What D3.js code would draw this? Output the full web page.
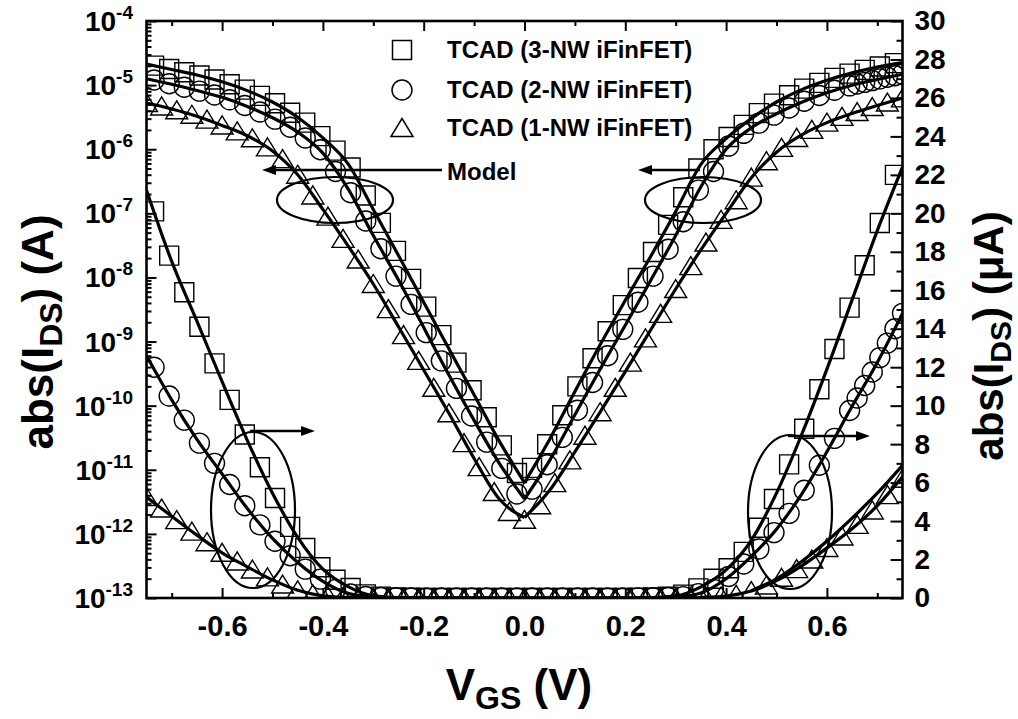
<!DOCTYPE html>
<html>
<head>
<meta charset="utf-8">
<script src="https://cdn.jsdelivr.net/npm/d3@7"></script>
<style>
  body { margin: 0; background: #fff; }
  text { font-family: "Liberation Sans", Arial, sans-serif; font-weight: bold; fill: #000; }
</style>
</head>
<body>
<svg id="chart" width="1018" height="719"></svg>
<script>
// ---- data (currents in A) ----
// 3-NW iFinFET (squares)
const vSq = [-0.735,-0.705,-0.675,-0.645,-0.615,-0.585,-0.555,-0.525,-0.495,-0.465,-0.435,-0.405,-0.375,-0.345,-0.315,-0.285,-0.255,-0.225,-0.195,-0.165,-0.135,-0.105,-0.075,-0.045,-0.015,
             0.015,0.045,0.075,0.105,0.135,0.165,0.195,0.225,0.255,0.285,0.315,0.345,0.375,0.405,0.435,0.465,0.495,0.525,0.555,0.585,0.615,0.645,0.675,0.705,0.735];
const iSq = [2.01e-5,1.78e-5,1.59e-5,1.41e-5,1.22e-5,1.03e-5,8.5e-6,6.8e-6,5.2e-6,3.7e-6,2.6e-6,1.6e-6,9.5e-7,5.2e-7,1.9e-7,7.1e-8,2.6e-8,9.5e-9,3.5e-9,1.26e-9,4.7e-10,1.74e-10,6.6e-11,2.4e-11,8.9e-12,
             1.07e-11,2.5e-11,7.1e-11,2.0e-10,5.5e-10,1.45e-9,3.7e-9,9.8e-9,2.5e-8,6.6e-8,1.78e-7,5.0e-7,1.0e-6,1.55e-6,2.4e-6,3.65e-6,5.15e-6,6.95e-6,8.8e-6,1.085e-5,1.295e-5,1.51e-5,1.73e-5,1.95e-5,2.2e-5];

// 2-NW iFinFET (circles)
const vCi = [-0.735,-0.705,-0.675,-0.645,-0.615,-0.585,-0.555,-0.525,-0.495,-0.465,-0.435,-0.405,-0.375,-0.345,-0.315,-0.285,-0.255,-0.225,-0.195,-0.165,-0.135,-0.105,-0.075,-0.045,-0.015,
             0.015,0.045,0.075,0.105,0.135,0.165,0.195,0.225,0.255,0.285,0.315,0.345,0.375,0.405,0.435,0.465,0.495,0.525,0.555,0.585,0.615,
             0.645,0.66,0.675,0.69,0.705,0.72,0.735,0.75];
const iCi = [1.2e-5,1.05e-5,9.25e-6,8.05e-6,7.0e-6,5.9e-6,4.8e-6,3.8e-6,2.95e-6,2.2e-6,1.5e-6,9.8e-7,4.5e-7,2.1e-7,7.6e-8,2.8e-8,1.05e-8,3.8e-9,1.38e-9,5.0e-10,1.86e-10,6.9e-11,2.7e-11,1.05e-11,4.2e-12,
             5.0e-12,1.2e-11,3.2e-11,8.5e-11,2.3e-10,6.0e-10,1.55e-9,4.1e-9,1.05e-8,2.75e-8,7.4e-8,2.3e-7,4.5e-7,1.12e-6,1.77e-6,2.55e-6,3.4e-6,4.4e-6,5.6e-6,6.9e-6,8.3e-6,
             9.75e-6,1.04e-5,1.105e-5,1.175e-5,1.25e-5,1.325e-5,1.4e-5,1.48e-5];

// 1-NW iFinFET (triangles)
const vTr = [-0.75,-0.72,-0.69,-0.66,-0.63,-0.60,-0.57,-0.54,-0.51,-0.48,-0.45,-0.42,-0.39,-0.36,-0.33,-0.30,-0.27,-0.24,-0.21,-0.18,-0.15,-0.12,-0.09,-0.06,-0.03,0,
             0.03,0.06,0.09,0.12,0.15,0.18,0.21,0.24,0.27,0.30,0.33,0.36,0.39,0.42,0.45,0.48,0.51,0.54,0.57,0.60,0.63,0.66,0.69,0.72,0.75];
const iTr = [5.25e-6,4.65e-6,4.05e-6,3.45e-6,2.9e-6,2.35e-6,1.9e-6,1.48e-6,1.07e-6,7.0e-7,4.0e-7,1.9e-7,8.9e-8,4.0e-8,1.9e-8,7.9e-9,3.2e-9,1.26e-9,5.0e-10,1.9e-10,7.6e-11,2.6e-11,1.1e-11,4.5e-12,2.2e-12,1.66e-12,
             2.8e-12,6.2e-12,1.4e-11,3.4e-11,7.9e-11,1.9e-10,4.7e-10,1.12e-9,2.7e-9,6.6e-9,1.5e-8,3.5e-8,7.9e-8,1.6e-7,3.6e-7,6.5e-7,1.05e-6,1.5e-6,2.0e-6,2.6e-6,3.2e-6,3.8e-6,4.55e-6,5.35e-6,6.2e-6];

// model curves (negative branch ends at 0, positive branch starts at 0)
const vModel = [-0.75,-0.70,-0.65,-0.60,-0.55,-0.50,-0.45,-0.40,-0.35,-0.30,-0.25,-0.20,-0.15,-0.10,-0.05,0,
                0.05,0.10,0.15,0.20,0.25,0.30,0.35,0.40,0.45,0.50,0.55,0.60,0.65,0.70,0.75];
const model3 = [2.12e-5,1.75e-5,1.44e-5,1.125e-5,8.2e-6,5.45e-6,3.15e-6,1.5e-6,5.9e-7,1.15e-7,2.2e-8,4.1e-9,7.7e-10,1.48e-10,2.8e-11,6.3e-12,
                3.0e-11,1.66e-10,8.9e-10,4.4e-9,2.1e-8,1.07e-7,5.8e-7,1.46e-6,3.0e-6,5.45e-6,8.5e-6,1.19e-5,1.55e-5,1.91e-5,2.24e-5];
const model2 = [1.26e-5,1.03e-5,8.25e-6,6.45e-6,4.65e-6,3.1e-6,1.85e-6,8.7e-7,2.4e-7,4.5e-8,9.1e-9,1.66e-9,3.0e-10,5.9e-11,1.26e-11,3.5e-12,
                1.4e-11,7.2e-11,3.7e-10,1.8e-9,8.9e-9,4.5e-8,2.6e-7,1.0e-6,2.16e-6,3.57e-6,5.4e-6,7.6e-6,9.97e-6,1.225e-5,1.48e-5];
const model1 = [5.25e-6,4.25e-6,3.27e-6,2.35e-6,1.62e-6,9.4e-7,4.0e-7,1.15e-7,3.1e-8,7.9e-9,1.7e-9,3.6e-10,7.6e-11,1.5e-11,3.5e-12,1.8e-12,
                4.8e-12,1.9e-11,7.9e-11,3.4e-10,1.5e-9,6.6e-9,2.7e-8,1.0e-7,3.6e-7,9.0e-7,1.67e-6,2.6e-6,3.6e-6,4.8e-6,6.3e-6];
// second 1-NW model trace seen on the linear axis, positive side
const vModel1b = [0.45,0.50,0.55,0.60,0.65,0.70,0.75];
const model1b = [3.8e-7,1.0e-6,1.9e-6,2.95e-6,4.15e-6,5.45e-6,6.9e-6];

const xMajor = [-0.6,-0.4,-0.2,0,0.2,0.4,0.6];
const xMinor = [-0.7,-0.5,-0.3,-0.1,0.1,0.3,0.5,0.7];
const logExp = [-4,-5,-6,-7,-8,-9,-10,-11,-12,-13];
const linMajor = [0,2,4,6,8,10,12,14,16,18,20,22,24,26,28,30];
const linMinor = [1,3,5,7,9,11,13,15,17,19,21,23,25,27,29];
const legendNames = ["TCAD (3-NW iFinFET)", "TCAD (2-NW iFinFET)", "TCAD (1-NW iFinFET)"];

// ---- layout ----
const svg = d3.select("#chart");
const box = {left: 146.5, right: 902.5, top: 21, bottom: 598};

const x = d3.scaleLinear().domain([-0.75, 0.75]).range([box.left, box.right]);
const yLog = d3.scaleLog().domain([1e-13, 1e-4]).range([box.bottom, box.top]);
const yLin = d3.scaleLinear().domain([0, 30]).range([box.bottom, box.top]);

svg.append("defs").append("clipPath").attr("id", "clip")
    .append("rect")
    .attr("x", box.left).attr("y", box.top)
    .attr("width", box.right - box.left).attr("height", box.bottom - box.top);

const shapes = {
    square: "M-9.5,-9.5h19v19h-19z",
    circle: "M-10,0a10,10 0 1,0 20,0a10,10 0 1,0 -20,0",
    triangle: "M0,-9.5L11,8.5L-11,8.5Z"
};

const series = [
    {v: vSq, i: iSq, shape: "square", model: model3},
    {v: vCi, i: iCi, shape: "circle", model: model2},
    {v: vTr, i: iTr, shape: "triangle", model: model1}
];

const plotArea = svg.append("g").attr("clip-path", "url(#clip)");

const lineLog = d3.line().x(d => x(d[0])).y(d => yLog(d[1])).curve(d3.curveMonotoneX);
const lineLin = d3.line().x(d => x(d[0])).y(d => yLin(d[1] * 1e6)).curve(d3.curveMonotoneX);

function drawLine(pts, gen) {
    plotArea.append("path").datum(pts)
        .attr("d", gen)
        .attr("fill", "none").attr("stroke", "#000").attr("stroke-width", 3.2)
        .attr("stroke-linejoin", "round");
}

series.forEach(s => {
    const pts = s.v.map((v, k) => [v, s.i[k]]);
    const mpts = vModel.map((v, k) => [v, s.model[k]]);
    const neg = mpts.filter(d => d[0] <= 0);
    const pos = mpts.filter(d => d[0] >= 0);

    // markers, log axis
    plotArea.append("g").selectAll("path")
        .data(pts).join("path")
        .attr("d", shapes[s.shape])
        .attr("transform", d => `translate(${x(d[0])},${yLog(d[1])})`)
        .attr("fill", "none").attr("stroke", "#000").attr("stroke-width", 1.4);

    // markers, linear axis
    plotArea.append("g").selectAll("path")
        .data(pts).join("path")
        .attr("d", shapes[s.shape])
        .attr("transform", d => `translate(${x(d[0])},${yLin(d[1] * 1e6)})`)
        .attr("fill", "none").attr("stroke", "#000").attr("stroke-width", 1.4);

    // model lines, one branch per polarity
    drawLine(neg, lineLog);
    drawLine(pos, lineLog);
    drawLine(neg, lineLin);
    drawLine(pos, lineLin);
});
drawLine(vModel1b.map((v, k) => [v, model1b[k]]), lineLin);

// ---- axes ----
const noLabel = () => "";

// bottom
const gBottom = svg.append("g").attr("transform", `translate(0,${box.bottom})`)
    .call(d3.axisBottom(x).tickValues(xMajor).tickSizeInner(-10).tickSizeOuter(0)
        .tickPadding(17).tickFormat(d => d.toFixed(1)));
svg.append("g").attr("transform", `translate(0,${box.bottom})`)
    .call(d3.axisBottom(x).tickValues(xMinor).tickSizeInner(-5).tickSizeOuter(0).tickFormat(noLabel));
// top
svg.append("g").attr("transform", `translate(0,${box.top})`)
    .call(d3.axisTop(x).tickValues(xMajor).tickSizeInner(-10).tickSizeOuter(0).tickFormat(noLabel));
svg.append("g").attr("transform", `translate(0,${box.top})`)
    .call(d3.axisTop(x).tickValues(xMinor).tickSizeInner(-5).tickSizeOuter(0).tickFormat(noLabel));

// left log
const logMajor = logExp.map(e => Math.pow(10, e));
const logMinor = [];
logExp.slice(1).forEach(e => { for (let m = 2; m <= 9; m++) logMinor.push(m * Math.pow(10, e)); });
svg.append("g").attr("transform", `translate(${box.left},0)`)
    .call(d3.axisLeft(yLog).tickValues(logMajor).tickSizeInner(-10).tickSizeOuter(0).tickFormat(noLabel));
svg.append("g").attr("transform", `translate(${box.left},0)`)
    .call(d3.axisLeft(yLog).tickValues(logMinor).tickSizeInner(-5).tickSizeOuter(0).tickFormat(noLabel));

const leftLabels = svg.append("g").selectAll("text")
    .data(logExp).join("text")
    .attr("x", 133).attr("y", e => yLog(Math.pow(10, e)) + 10)
    .attr("text-anchor", "end").style("font-size", "28px");
leftLabels.append("tspan").text("10");
leftLabels.append("tspan").attr("dy", -12).style("font-size", "19px").text(e => "-" + Math.abs(e));

// right linear
const gRight = svg.append("g").attr("transform", `translate(${box.right},0)`)
    .call(d3.axisRight(yLin).tickValues(linMajor).tickSizeInner(-12).tickSizeOuter(0)
        .tickPadding(12).tickFormat(d3.format("d")));
svg.append("g").attr("transform", `translate(${box.right},0)`)
    .call(d3.axisRight(yLin).tickValues(linMinor).tickSizeInner(-6).tickSizeOuter(0).tickFormat(noLabel));

svg.selectAll(".domain").remove();
svg.selectAll(".tick line").attr("stroke", "#000").attr("stroke-width", 2);
svg.selectAll(".tick text").attr("fill", "#000")
    .style("font-family", "'Liberation Sans', Arial, sans-serif")
    .style("font-weight", "bold");
gBottom.selectAll(".tick text").style("font-size", "29px");
gRight.selectAll(".tick text").style("font-size", "28px");

// frame
svg.append("rect")
    .attr("x", box.left).attr("y", box.top)
    .attr("width", box.right - box.left).attr("height", box.bottom - box.top)
    .attr("fill", "none").attr("stroke", "#000").attr("stroke-width", 2.6);

// ---- axis titles ----
const tLeft = svg.append("text")
    .attr("transform", "translate(53,332) rotate(-90)")
    .attr("text-anchor", "middle").style("font-size", "44px");
tLeft.append("tspan").text("abs(I");
tLeft.append("tspan").attr("dy", 9).style("font-size", "32px").text("DS");
tLeft.append("tspan").attr("dy", -9).text(") (A)");

const tRight = svg.append("text")
    .attr("transform", "translate(1003,336) rotate(-90)")
    .attr("text-anchor", "middle").style("font-size", "42px");
tRight.append("tspan").text("abs(I");
tRight.append("tspan").attr("dy", 8).style("font-size", "30px").text("DS");
tRight.append("tspan").attr("dy", -8).text(") (\u03BCA)");

const tBottom = svg.append("text")
    .attr("x", 519).attr("y", 700)
    .attr("text-anchor", "middle").style("font-size", "44px");
tBottom.append("tspan").text("V");
tBottom.append("tspan").attr("dy", 9).style("font-size", "32px").text("GS");
tBottom.append("tspan").attr("dy", -9).text(" (V)");

// ---- legend ----
const legendY = [50, 90, 128];
const legend = svg.append("g");
series.forEach((s, k) => {
    legend.append("path")
        .attr("d", shapes[s.shape])
        .attr("transform", `translate(402,${legendY[k]})`)
        .attr("fill", "none").attr("stroke", "#000").attr("stroke-width", 1.5);
    legend.append("text")
        .attr("x", 447).attr("y", legendY[k] + 8)
        .style("font-size", "24px").text(legendNames[k]);
});
legend.append("text").attr("x", 447).attr("y", 180).style("font-size", "24px").text("Model");

// ---- annotations ----
function arrow(x1, y1, x2, y2) {
    const ang = Math.atan2(y2 - y1, x2 - x1);
    const len = 14, half = 5;
    const bx = x2 - len * Math.cos(ang), by = y2 - len * Math.sin(ang);
    svg.append("line")
        .attr("x1", x1).attr("y1", y1).attr("x2", bx).attr("y2", by)
        .attr("stroke", "#000").attr("stroke-width", 2.4);
    svg.append("path")
        .attr("d", `M${x2},${y2}L${bx - half * Math.sin(ang)},${by + half * Math.cos(ang)}L${bx + half * Math.sin(ang)},${by - half * Math.cos(ang)}Z`)
        .attr("fill", "#000");
}
function ellipse(cx, cy, rx, ry) {
    svg.append("ellipse")
        .attr("cx", cx).attr("cy", cy).attr("rx", rx).attr("ry", ry)
        .attr("fill", "none").attr("stroke", "#000").attr("stroke-width", 2.2);
}

ellipse(335, 200, 58, 23);
ellipse(703, 200, 58, 23);
ellipse(253, 510, 42, 78);
ellipse(790, 512, 42, 77);
arrow(442, 170, 262, 170);
arrow(700, 170, 638, 170);
arrow(250, 431, 315, 431);
arrow(788, 436, 870, 436);
</script>
</body>
</html>
